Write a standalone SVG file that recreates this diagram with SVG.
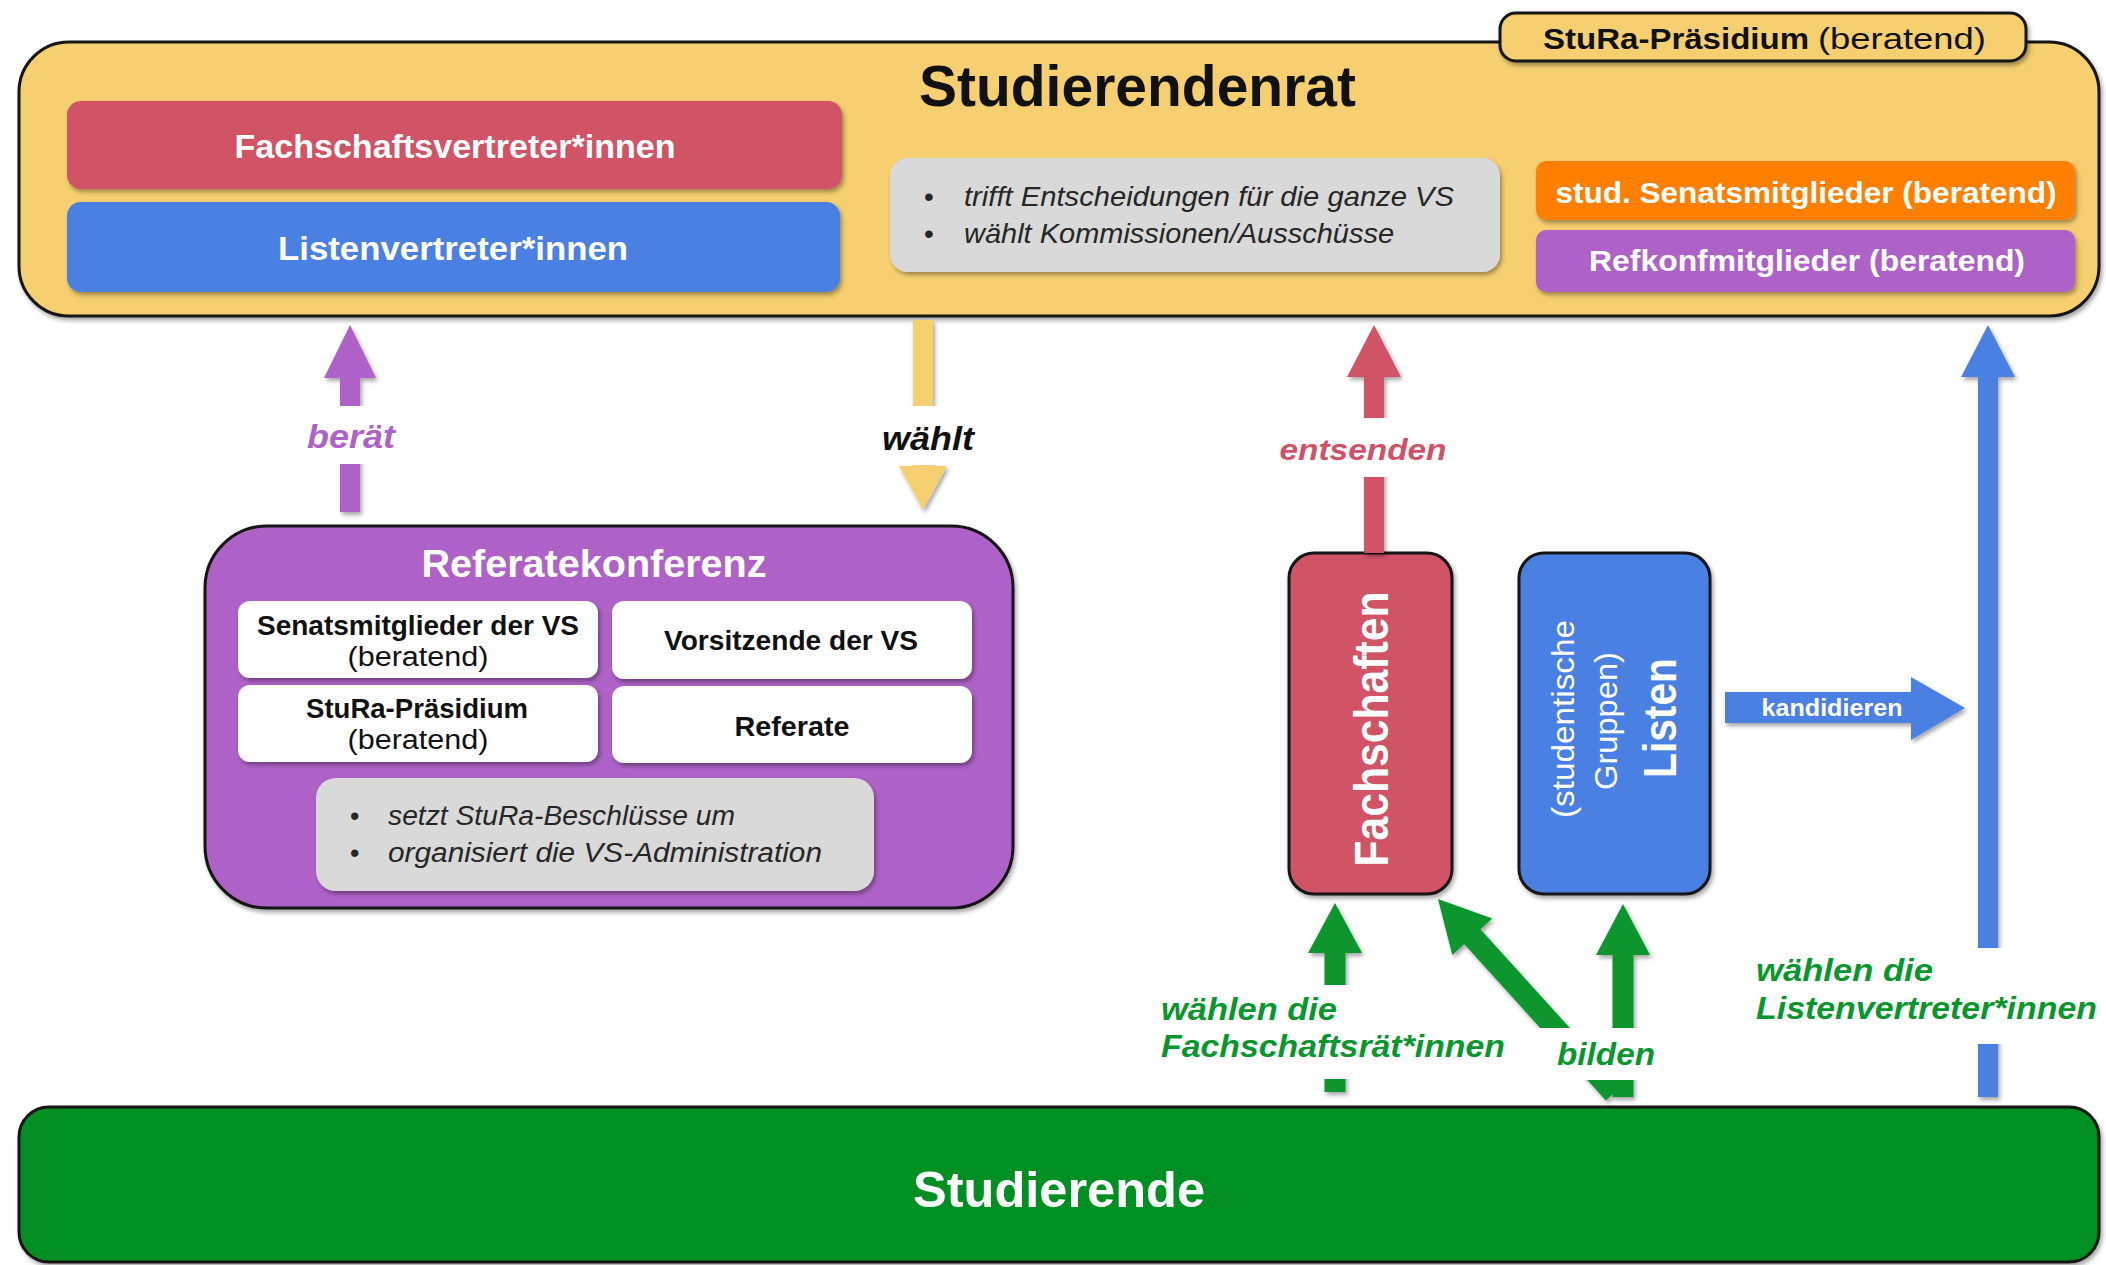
<svg xmlns="http://www.w3.org/2000/svg" width="2106" height="1265" viewBox="0 0 2106 1265">
<defs>
<filter id="sh" filterUnits="userSpaceOnUse" x="0" y="0" width="2106" height="1265">
<feDropShadow dx="2" dy="3" stdDeviation="2" flood-color="#000" flood-opacity="0.35"/>
</filter>
<style>
text{font-family:"Liberation Sans",Arial,sans-serif}
.b{font-weight:bold}
.i{font-style:italic}
.w{fill:#fff}
.k{fill:#111}
.c{text-anchor:middle}
.frame{stroke:#141414;stroke-width:3}
.y{fill:#F5CF6F}
.red{fill:#D05266}
.blue{fill:#4B80E3}
.pur{fill:#AE62C7}
.org{fill:#FF8000}
.gry{fill:#D9D9D9}
.grn{fill:#0A962E}
.wb{fill:#fff}
.gt{fill:#262626;font-style:italic}
.lbl{font-weight:bold;font-style:italic}
</style>
</defs>
<rect width="2106" height="1265" fill="#fff"/>

<g id="studierendenrat">
<rect x="19" y="42" width="2080" height="274" rx="50" class="y frame" filter="url(#sh)"/>
<text x="919" y="106" font-size="58" class="b k" textLength="437" lengthAdjust="spacingAndGlyphs">Studierendenrat</text>
</g>
<g id="stura-praesidium-tab">
<rect x="1500" y="13" width="526" height="48" rx="16" class="y frame" filter="url(#sh)"/>
<text x="1543" y="49" font-size="30" class="b k" textLength="266" lengthAdjust="spacingAndGlyphs">StuRa-Präsidium</text>
<text x="1818" y="49" font-size="30" class="k" textLength="168" lengthAdjust="spacingAndGlyphs">(beratend)</text>
</g>
<g id="fachschaftsvertreter">
<rect x="67" y="101" width="775" height="88" rx="14" class="red" filter="url(#sh)"/>
<text x="455" y="158" font-size="33" class="b w c" textLength="441" lengthAdjust="spacingAndGlyphs">Fachschaftsvertreter*innen</text>
</g>
<g id="listenvertreter">
<rect x="67" y="202" width="773" height="90" rx="14" class="blue" filter="url(#sh)"/>
<text x="453" y="260" font-size="33" class="b w c" textLength="350" lengthAdjust="spacingAndGlyphs">Listenvertreter*innen</text>
</g>
<g id="stura-aufgaben">
<rect x="890" y="158" width="610" height="114" rx="18" class="gry" filter="url(#sh)"/>
<text x="924" y="206" font-size="28" fill="#262626">•</text>
<text x="924" y="243" font-size="28" fill="#262626">•</text>
<text x="964" y="206" font-size="28" class="gt" textLength="490" lengthAdjust="spacingAndGlyphs">trifft Entscheidungen für die ganze VS</text>
<text x="964" y="243" font-size="28" class="gt" textLength="430" lengthAdjust="spacingAndGlyphs">wählt Kommissionen/Ausschüsse</text>
</g>
<g id="senatsmitglieder-stud">
<rect x="1536" y="161" width="539" height="59" rx="10" class="org" filter="url(#sh)"/>
<text x="1806" y="203" font-size="30" class="b w c" textLength="501" lengthAdjust="spacingAndGlyphs">stud. Senatsmitglieder (beratend)</text>
</g>
<g id="refkonfmitglieder">
<rect x="1536" y="230" width="539" height="62" rx="10" class="pur" filter="url(#sh)"/>
<text x="1807" y="271" font-size="30" class="b w c" textLength="436" lengthAdjust="spacingAndGlyphs">Refkonfmitglieder (beratend)</text>
</g>

<g id="referatekonferenz">
<rect x="205" y="526" width="808" height="382" rx="62" class="pur frame" filter="url(#sh)"/>
<text x="594" y="577" font-size="38" class="b w c" textLength="345" lengthAdjust="spacingAndGlyphs">Referatekonferenz</text>
</g>
<g id="rk-senatsmitglieder">
<rect x="238" y="601" width="360" height="77" rx="12" class="wb" filter="url(#sh)"/>
<text x="418" y="635" font-size="28" class="b k c" textLength="322" lengthAdjust="spacingAndGlyphs">Senatsmitglieder der VS</text>
<text x="418" y="666" font-size="27" class="k c" textLength="141" lengthAdjust="spacingAndGlyphs">(beratend)</text>
</g>
<g id="rk-vorsitzende">
<rect x="612" y="601" width="360" height="78" rx="12" class="wb" filter="url(#sh)"/>
<text x="791" y="650" font-size="28" class="b k c" textLength="254" lengthAdjust="spacingAndGlyphs">Vorsitzende der VS</text>
</g>
<g id="rk-praesidium">
<rect x="238" y="685" width="360" height="77" rx="12" class="wb" filter="url(#sh)"/>
<text x="417" y="718" font-size="28" class="b k c" textLength="222" lengthAdjust="spacingAndGlyphs">StuRa-Präsidium</text>
<text x="418" y="749" font-size="27" class="k c" textLength="141" lengthAdjust="spacingAndGlyphs">(beratend)</text>
</g>
<g id="rk-referate">
<rect x="612" y="686" width="360" height="77" rx="12" class="wb" filter="url(#sh)"/>
<text x="792" y="736" font-size="28" class="b k c" textLength="115" lengthAdjust="spacingAndGlyphs">Referate</text>
</g>
<g id="rk-aufgaben">
<rect x="316" y="778" width="558" height="113" rx="20" class="gry" filter="url(#sh)"/>
<text x="350" y="825" font-size="27" fill="#262626">•</text>
<text x="350" y="862" font-size="27" fill="#262626">•</text>
<text x="388" y="825" font-size="27" class="gt" textLength="347" lengthAdjust="spacingAndGlyphs">setzt StuRa-Beschlüsse um</text>
<text x="388" y="862" font-size="27" class="gt" textLength="434" lengthAdjust="spacingAndGlyphs">organisiert die VS-Administration</text>
</g>

<g id="fachschaften">
<rect x="1289" y="553" width="163" height="341" rx="25" class="red frame" filter="url(#sh)"/>
<text transform="translate(1388,729) rotate(-90)" font-size="48" class="b w c" textLength="275" lengthAdjust="spacingAndGlyphs">Fachschaften</text>
</g>
<g id="listen">
<rect x="1519" y="553" width="191" height="341" rx="25" class="blue frame" filter="url(#sh)"/>
<text transform="translate(1574,719) rotate(-90)" font-size="32" class="w c" textLength="198" lengthAdjust="spacingAndGlyphs">(studentische</text>
<text transform="translate(1617,721) rotate(-90)" font-size="32" class="w c" textLength="138" lengthAdjust="spacingAndGlyphs">Gruppen)</text>
<text transform="translate(1676,718) rotate(-90)" font-size="47" class="b w c" textLength="120" lengthAdjust="spacingAndGlyphs">Listen</text>
</g>

<g id="studierende">
<rect x="19" y="1107" width="2080" height="155" rx="30" fill="#008F22" class="frame" filter="url(#sh)"/>
<text x="1059" y="1207" font-size="50" class="b w c" textLength="292" lengthAdjust="spacingAndGlyphs">Studierende</text>
</g>

<g id="connectors" filter="url(#sh)">
<polygon class="pur" points="350,325 376,378 360,378 360,512 340,512 340,378 324,378"/>
<polygon class="y" points="913,320 933,320 933,466 947,466 923,510 899,466 913,466"/>
<polygon class="red" points="1374,325 1401,377 1384,377 1384,553 1364,553 1364,377 1347,377"/>
<polygon class="blue" points="1988,325 2015,377 1998,377 1998,1097 1978,1097 1978,377 1961,377"/>
<polygon class="blue" points="1725,692 1911,692 1911,677 1965,708 1911,740 1911,723 1725,723"/>
<polygon class="grn" points="1335,903 1362,953 1345.5,953 1345.5,1092 1324.5,1092 1324.5,953 1308,953"/>
<polygon class="grn" points="1623,904 1650,955 1633.5,955 1633.5,1097 1612.5,1097 1612.5,955 1596,955"/>
<polygon class="grn" points="1438,899 1492.3,918.5 1480.4,929.3 1622.1,1085.6 1605.9,1100.4 1464.2,944.1 1452.3,954.9"/>
</g>

<g id="connector-labels">
<rect x="300" y="406" width="100" height="58" fill="#fff"/>
<text x="351" y="448" font-size="33" class="lbl c" fill="#AE62C7" textLength="88" lengthAdjust="spacingAndGlyphs">berät</text>
<rect x="875" y="406" width="105" height="59" fill="#fff"/>
<text x="928" y="450" font-size="33" class="lbl c k" textLength="92" lengthAdjust="spacingAndGlyphs">wählt</text>
<rect x="1272" y="418" width="185" height="59" fill="#fff"/>
<text x="1363" y="460" font-size="30" class="lbl c" fill="#D05266" textLength="167" lengthAdjust="spacingAndGlyphs">entsenden</text>
<text x="1832" y="716" font-size="24" class="b w c" textLength="141" lengthAdjust="spacingAndGlyphs">kandidieren</text>
<rect x="1155" y="985" width="340" height="94" fill="#fff"/>
<text x="1161" y="1020" font-size="31" class="lbl" fill="#0A962E" textLength="176" lengthAdjust="spacingAndGlyphs">wählen die</text>
<text x="1161" y="1057" font-size="31" class="lbl" fill="#0A962E" textLength="344" lengthAdjust="spacingAndGlyphs">Fachschaftsrät*innen</text>
<rect x="1535" y="1028" width="125" height="52" fill="#fff"/>
<text x="1557" y="1065" font-size="31" class="lbl" fill="#0A962E" textLength="98" lengthAdjust="spacingAndGlyphs">bilden</text>
<rect x="1750" y="948" width="352" height="96" fill="#fff"/>
<text x="1756" y="981" font-size="31" class="lbl" fill="#0A962E" textLength="177" lengthAdjust="spacingAndGlyphs">wählen die</text>
<text x="1756" y="1019" font-size="31" class="lbl" fill="#0A962E" textLength="341" lengthAdjust="spacingAndGlyphs">Listenvertreter*innen</text>
</g>
</svg>
